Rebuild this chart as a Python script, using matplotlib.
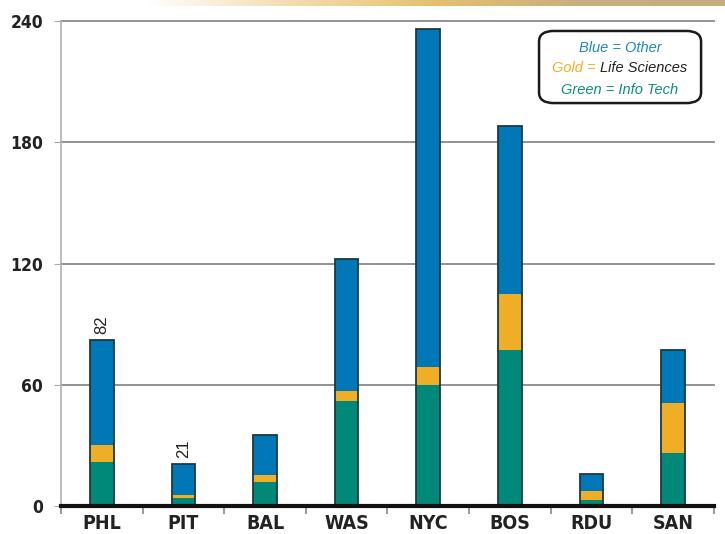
import matplotlib
matplotlib.use("Agg")
import matplotlib.pyplot as plt
import numpy as np
from matplotlib.patches import FancyBboxPatch
from matplotlib.colors import LinearSegmentedColormap

cities = ["PHL", "PIT", "BAL", "WAS", "NYC", "BOS", "RDU", "SAN"]
info_tech = [22, 4, 12, 52, 60, 77, 3, 26]
life_sci = [8, 1.5, 3.5, 5, 9, 28, 4.5, 25]
totals = [82, 21, 35, 122, 236, 188, 16, 77]
other = [t - a - b for t, a, b in zip(totals, info_tech, life_sci)]
labeled = {"PHL": 82, "PIT": 21}
yticks = [0, 60, 120, 180, 240]

BLUE = "#0077b6"
GOLD = "#f0ae26"
GREEN = "#008878"
EDGE = "#1c3a40"

plt.rcParams["font.family"] = ["DejaVu Sans"]
TICKFONT = dict(family="DejaVu Sans", stretch="condensed", fontweight="bold", color="#222222")
LEGFONT = ["Liberation Sans", "DejaVu Sans"]

fig = plt.figure(figsize=(7.25, 5.34), dpi=100)

# decorative gradient band along the top edge
band = fig.add_axes([0.2, 0.988, 0.8, 0.012])
cmap = LinearSegmentedColormap.from_list(
    "band", ["#ffffff", "#f3dcb0", "#e6c070", "#c8ae80", "#c4ac80"])
band.imshow(np.linspace(0, 1, 256)[None, :], aspect="auto", cmap=cmap)
band.axis("off")

ax = fig.add_axes([0.0841, 0.0524, 0.9007, 0.9083])
x = np.arange(len(cities))
w = 0.29
bottom2 = np.array(info_tech) + np.array(life_sci)
ax.bar(x, info_tech, w, color=GREEN, zorder=3)
ax.bar(x, life_sci, w, bottom=info_tech, color=GOLD, zorder=3)
ax.bar(x, other, w, bottom=bottom2, color=BLUE, zorder=3)
# dark outline around each full stack
ax.bar(x, totals, w, fill=False, edgecolor=EDGE, linewidth=1.3, zorder=4)

for i, c in enumerate(cities):
    if c in labeled:
        ax.text(i, labeled[c] + 3, str(labeled[c]), rotation=90,
                ha="center", va="bottom", fontsize=12, color="#222222",
                family=LEGFONT)

ax.set_xlim(-0.5, len(cities) - 0.5)
ax.set_ylim(0, 240)
ax.set_yticks(yticks)
ax.set_yticklabels([str(v) for v in yticks], fontsize=12.5, **TICKFONT)
for v in yticks[1:]:
    ax.axhline(v, color="#8a8a8a", linewidth=1.3, zorder=1, clip_on=False)

ax.set_xticks(x)
ax.set_xticklabels(cities, fontsize=14, **TICKFONT)
ax.tick_params(axis="x", length=0, pad=6)
ax.set_xticks(np.arange(-0.5, len(cities)), minor=True)
ax.tick_params(axis="x", which="minor", length=6, color="#888888", width=1.2)
ax.tick_params(axis="y", length=5, color="#aaaaaa", pad=8)

for s in ["top", "right"]:
    ax.spines[s].set_visible(False)
ax.spines["left"].set_color("#b0b0b0")
ax.spines["left"].set_linewidth(1.2)
ax.spines["bottom"].set_color("#111111")
ax.spines["bottom"].set_linewidth(3)
ax.spines["bottom"].set_zorder(5)

# legend box
box = FancyBboxPatch((0.7435, 0.807), 0.2235, 0.135, boxstyle="round,pad=0,rounding_size=0.02",
                     transform=fig.transFigure, facecolor="white", edgecolor="#1a1a1a",
                     linewidth=1.8, zorder=10)
fig.patches.append(box)
fs = 10.5
cx = 0.855
fig.text(cx, 0.911, "Blue = Other", ha="center", va="center", style="italic",
         fontsize=fs, color="#1c86c6", family=LEGFONT, zorder=11)
fig.text(cx, 0.832, "Green = Info Tech", ha="center", va="center", style="italic",
         fontsize=fs, color="#0b8f7e", family=LEGFONT, zorder=11)

# middle line in two colours, centred as a whole
renderer = fig.canvas.get_renderer()
ta = fig.text(0, 0.872, "Gold =", ha="left", va="center", style="italic",
              fontsize=fs, color="#f0ae26", family=LEGFONT, zorder=11)
tb = fig.text(0, 0.872, "Life Sciences", ha="left", va="center", style="italic",
              fontsize=fs, color="#222222", family=LEGFONT, zorder=11)
space = 4.0 / fig.bbox.width
wa = ta.get_window_extent(renderer).width / fig.bbox.width
wb = tb.get_window_extent(renderer).width / fig.bbox.width
start = cx - (wa + space + wb) / 2
ta.set_x(start)
tb.set_x(start + wa + space)

fig.savefig("out.png", dpi=100)
